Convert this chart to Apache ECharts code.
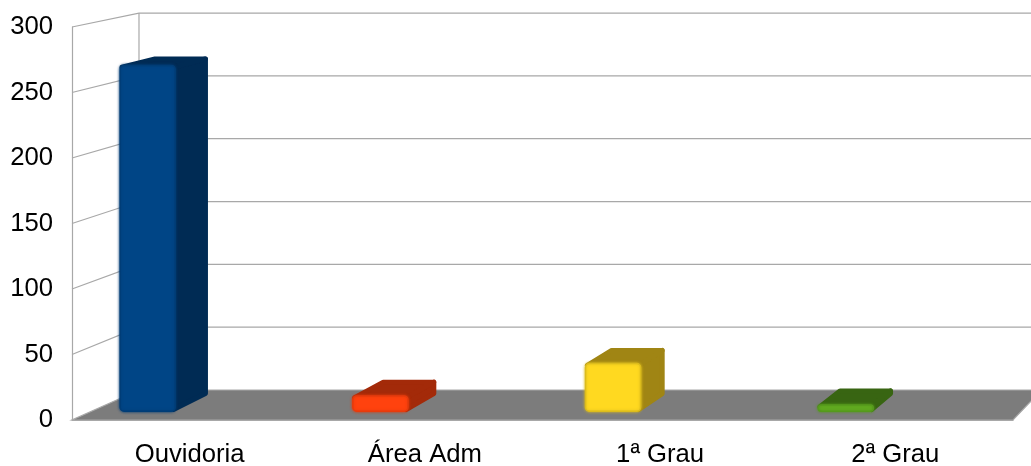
<!DOCTYPE html>
<html>
<head>
<meta charset="utf-8">
<style>html,body{margin:0;padding:0;background:#fff}#c{width:1031px;height:466px}</style>
<script src="https://cdn.jsdelivr.net/npm/echarts@6/dist/echarts.min.js"></script>
</head>
<body>
<div id="c"></div>
<script>
const categories = ['Ouvidoria', 'Área Adm', '1ª Grau', '2ª Grau'];
const values = [268, 13, 38, 6];
const yTicks = [0, 50, 100, 150, 200, 250, 300];

const frontColors = ['#004586', '#ff420e', '#ffd920', '#62ab20'];
const edgeColors = ['#003d76', '#e63b0c', '#dcbc1c', '#55991c'];
const darkColors = ['#002b54', '#a32a09', '#a08514', '#386512'];
const wallColor = '#a8a8a8';
const floorColor = '#7c7c7c';

// perspective of the 3D box: everything shrinks towards one vanishing point
const VP = [1714, -315];
const S_BACK = 0.9592, S_BAR_FRONT = 0.98912, S_BAR_BACK = 0.9675;
const BAR_VP_X = 1896, BAR_DEPTH_X = 0.0186;
const BAR_OFFSET = -0.2515, BAR_WIDTH = 0.243;
const proj = (p, s) => [VP[0] + (p[0] - VP[0]) * s, VP[1] + (p[1] - VP[1]) * s];

function renderWall(params, api) {
  const cs = params.coordSys;
  const y = api.coord([0, api.value(1)])[1];
  const left = [cs.x, y];
  const back = proj(left, S_BACK);
  const right = proj([cs.x + cs.width, y], S_BACK);
  const children = [];
  const lineStyle = { stroke: wallColor, lineWidth: 1.2, fill: null };
  if (api.value(1) === 0) {
    const a = [cs.x, y], b = [cs.x + cs.width, y];
    children.push({
      type: 'polygon',
      shape: { points: [a, b, right, back] },
      style: { fill: floorColor, stroke: wallColor, lineWidth: 1.2 }
    });
    const top = proj([cs.x, cs.y], S_BACK);
    children.push({
      type: 'line',
      shape: { x1: back[0], y1: back[1], x2: top[0], y2: top[1] },
      style: lineStyle
    });
  } else {
    children.push({
      type: 'polyline',
      shape: { points: [left, back, right] },
      style: lineStyle
    });
  }
  return { type: 'group', children };
}

function renderBar(params, api) {
  const i = params.dataIndex;
  const band = api.size([1, 0])[0];
  const c = api.coord([api.value(0), api.value(1)]);
  const base = api.coord([api.value(0), 0]);
  const xl = c[0] + BAR_OFFSET * band - BAR_WIDTH * band / 2;
  const xr = xl + BAR_WIDTH * band;
  const fTL = proj([xl, c[1]], S_BAR_FRONT), fTR = proj([xr, c[1]], S_BAR_FRONT);
  const fBL = proj([xl, base[1]], S_BAR_FRONT), fBR = proj([xr, base[1]], S_BAR_FRONT);
  const backX = x => x + (BAR_VP_X - x) * BAR_DEPTH_X;
  const bTopY = proj([xl, c[1]], S_BAR_BACK)[1];
  const bBotY = proj([xl, base[1]], S_BAR_BACK)[1];
  const bLX = backX(fTL[0]), bRX = backX(fTR[0]);
  const dark = darkColors[i];
  const ins = 2.5;
  const soft = { stroke: dark, lineWidth: ins * 2, lineJoin: 'round', fill: dark };
  return {
    type: 'group',
    children: [
      { type: 'polygon',
        shape: { points: [
          [fTR[0] - ins, fTR[1] + ins], [bRX - ins, bTopY + ins],
          [bRX - ins, bBotY - ins], [fBR[0] - ins, fBR[1] - ins] ] },
        style: soft },
      { type: 'polygon',
        shape: { points: [
          [fTL[0] + ins, fTL[1] + ins], [bLX + ins, bTopY + ins],
          [bRX - ins, bTopY + ins], [fTR[0] - ins, fTR[1] + ins] ] },
        style: soft },
      { type: 'rect',
        shape: { x: fTL[0] + 0.75, y: fTL[1] + 0.75,
                 width: fTR[0] - fTL[0] - 1.5, height: fBL[1] - fTL[1] - 1.5, r: 4 },
        style: { fill: frontColors[i], stroke: edgeColors[i], lineWidth: 1.5,
                 shadowBlur: 3, shadowColor: edgeColors[i] } }
    ]
  };
}

const chart = echarts.init(document.getElementById('c'), null, { renderer: 'canvas' });
chart.setOption({
  animation: false,
  backgroundColor: '#ffffff',
  textStyle: { fontFamily: '"Liberation Sans", Arial, sans-serif' },
  grid: { left: 72, right: 18, top: 27, bottom: 46, containLabel: false, outerBoundsMode: 'none' },
  xAxis: {
    type: 'category',
    data: categories,
    axisTick: { show: false },
    axisLine: { show: true, onZero: false, lineStyle: { color: wallColor, width: 1.2 } },
    axisLabel: { color: '#000000', fontSize: 25.7, margin: 22,
                 fontFamily: '"Liberation Sans", Arial, sans-serif' },
    splitLine: { show: false }
  },
  yAxis: {
    type: 'value',
    min: 0,
    max: 300,
    interval: 50,
    axisTick: { show: false },
    axisLine: { show: true, lineStyle: { color: wallColor, width: 1.2 } },
    axisLabel: { color: '#000000', fontSize: 25.7, margin: 19, padding: [4, 0, 0, 0],
                 fontFamily: '"Liberation Sans", Arial, sans-serif' },
    splitLine: { show: false }
  },
  series: [
    { type: 'custom', name: 'walls', renderItem: renderWall, silent: true, clip: false, z: 1,
      encode: { x: 0, y: 1 },
      data: yTicks.map(t => [0, t]) },
    { type: 'custom', name: 'bars', renderItem: renderBar, clip: false, z: 3,
      encode: { x: 0, y: 1 },
      data: values.map((v, i) => [i, v]) }
  ]
});
</script>
</body>
</html>
